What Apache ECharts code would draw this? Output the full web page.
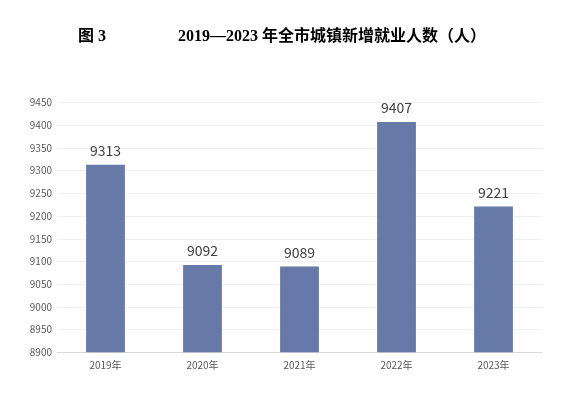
<!DOCTYPE html>
<html><head><meta charset="utf-8">
<script src="https://cdn.jsdelivr.net/npm/echarts@6/dist/echarts.min.js"></script>
<style>html,body{margin:0;padding:0;background:#fff}#c{width:568px;height:394px}</style>
</head><body><div id="c"></div>
<script>
var categories = ['2019年','2020年','2021年','2022年','2023年'];
var values = [9313, 9092, 9089, 9407, 9221];
var yMin = 8900, yMax = 9450, yStep = 50;
var chart = echarts.init(document.getElementById('c'));
chart.setOption({
  animation: false,
  graphic: [
    {type:'text', left:78, top:29, style:{text:'图 3', font:'bold 16px "Liberation Serif","Noto Sans CJK SC"', fill:'#000'}},
    {type:'text', left:178, top:29, style:{text:'2019—2023 年全市城镇新增就业人数（人）', font:'bold 16px "Liberation Serif","Noto Sans CJK SC"', fill:'#000'}}
  ],
  grid: {left:57, right:26, top:102.5, bottom:41.7},
  xAxis: {
    type:'category', data: categories,
    axisLine:{lineStyle:{color:'#d9d9d9'}},
    axisTick:{show:false},
    axisLabel:{color:'#595959', fontSize:10, margin:8, fontFamily:'"Noto Sans CJK SC"'}
  },
  yAxis: {
    type:'value', min:yMin, max:yMax, interval:yStep,
    axisLine:{show:false}, axisTick:{show:false},
    splitLine:{lineStyle:{color:'#f0f0f0'}},
    axisLabel:{color:'#595959', fontSize:10, margin:5, fontFamily:'"Noto Sans CJK SC"', formatter: function(v){return String(v);}}
  },
  series: [{
    type:'bar', data: values, barWidth:'40%',
    itemStyle:{color:'#6779a9'},
    label:{show:true, position:'top', distance:7, color:'#404040', fontSize:14, fontFamily:'"Noto Sans CJK SC"'}
  }]
});
</script></body></html>
